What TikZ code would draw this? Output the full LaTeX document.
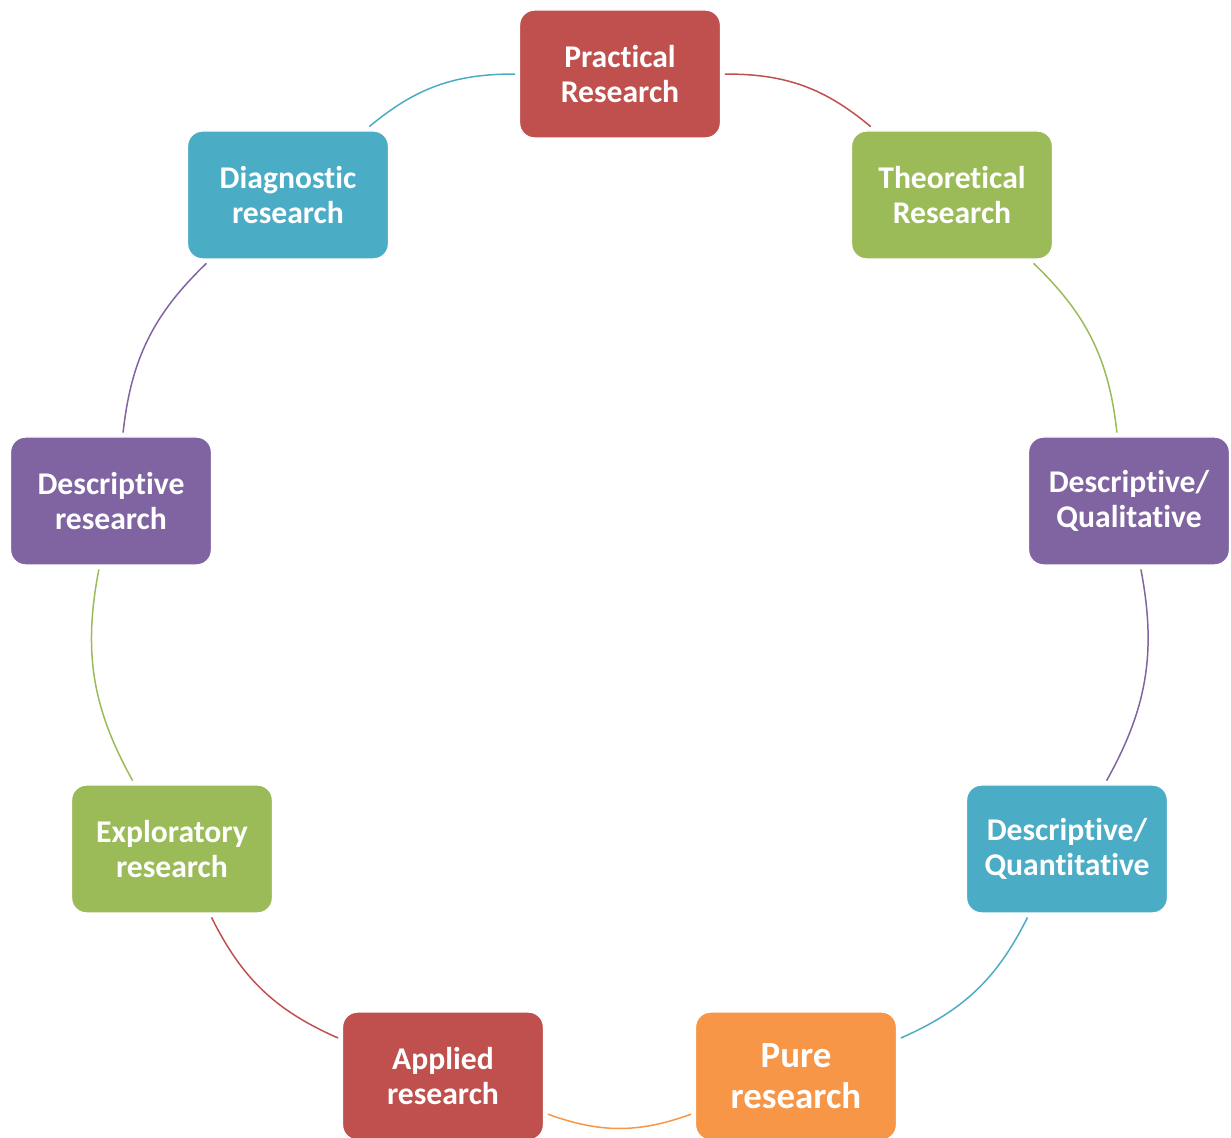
\documentclass[tikz,border=0pt]{standalone}
\usepackage{fontspec}
\setmainfont[Ligatures=NoCommon]{Carlito}
\usetikzlibrary{positioning}

\definecolor{resred}{HTML}{C0504D}
\definecolor{resgreen}{HTML}{9BBB59}
\definecolor{respurple}{HTML}{8064A2}
\definecolor{rescyan}{HTML}{4BACC6}
\definecolor{resorange}{HTML}{F79646}

\tikzset{
  stepbox/.style={draw=white,line width=0.8pt,rounded corners=0.3cm,
    minimum width=4.02cm,minimum height=2.56cm,inner sep=0pt,outer sep=2.5pt,
    align=center,text=white,font=\bfseries\fontsize{18}{20}\selectfont},
  link/.style={line width=0.85pt,bend left=20}
}

\begin{document}
\begin{tikzpicture}
\useasboundingbox (0,0) rectangle (24.62,22.74);
\node[stepbox,fill=resred] (prac) at (12.40,21.26) {Practical\\Research};
\node[stepbox,fill=resgreen] (theo) at (19.04,18.84) {Theoretical\\Research};
\node[stepbox,fill=respurple] (qual) at (22.58,12.72) {Descriptive/\\Qualitative};
\node[stepbox,fill=rescyan] (quant) at (21.34,5.76) {Descriptive/\\Quantitative};
\node[stepbox,fill=resorange,font=\bfseries\fontsize{21}{23.5}\selectfont] (pure) at (15.92,1.22) {Pure\\research};
\node[stepbox,fill=resred] (appl) at (8.86,1.22) {Applied\\research};
\node[stepbox,fill=resgreen] (expl) at (3.44,5.76) {Exploratory\\research};
\node[stepbox,fill=respurple] (desc) at (2.22,12.72) {Descriptive\\research};
\node[stepbox,fill=rescyan] (diag) at (5.76,18.84) {Diagnostic\\research};
% cycle arcs
\draw[link,resred] (prac) to (theo);
\draw[link,resgreen] (theo) to (qual);
\draw[link,respurple] (qual) to (quant);
\draw[link,rescyan] (quant) to (pure);
\draw[link,resorange] (pure) to (appl);
\draw[link,resred] (appl) to (expl);
\draw[link,resgreen] (expl) to (desc);
\draw[link,respurple] (desc) to (diag);
\draw[link,rescyan] (diag) to (prac);
\end{tikzpicture}
\end{document}
